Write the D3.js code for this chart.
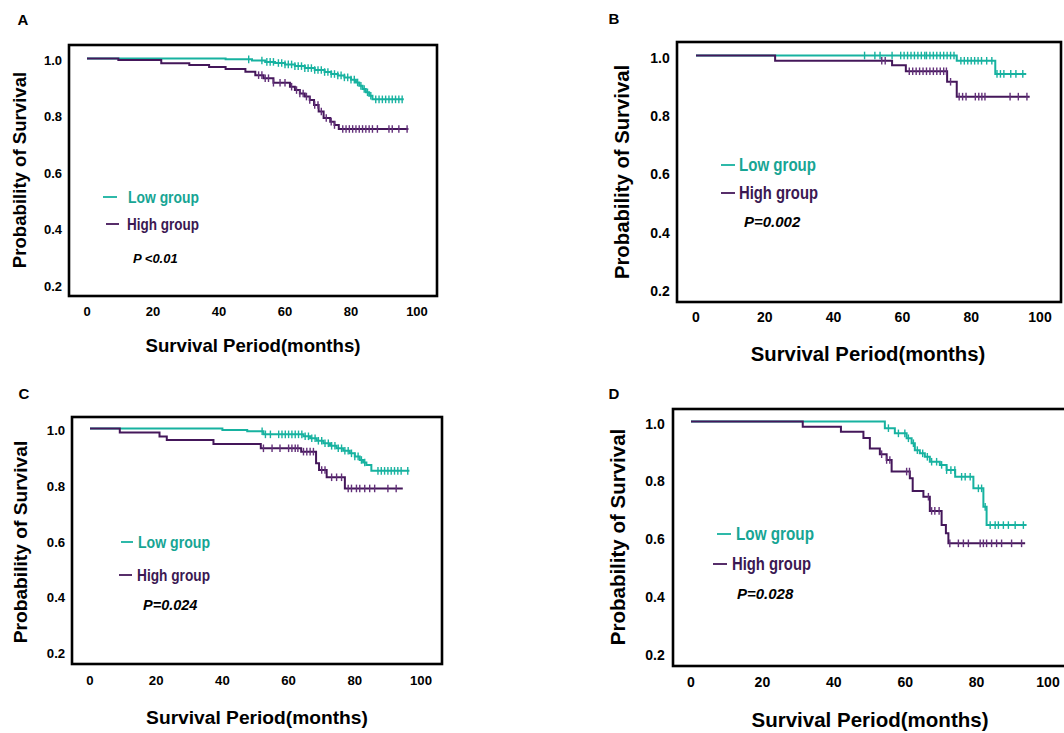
<!DOCTYPE html>
<html>
<head>
<meta charset="utf-8">
<script src="https://cdn.jsdelivr.net/npm/d3@7"></script>
<style>
  body { margin: 0; background: #fff; }
  svg { display: block; }
</style>
</head>
<body>
<div id="chart"></div>
<script>
const width = 1064;
const height = 733;

const xTicks = [0, 20, 40, 60, 80, 100];
const yTicks = [0.2, 0.4, 0.6, 0.8, 1.0];
const groupNames = ["Low group", "High group"];

// Kaplan-Meier steps: [month, survival after the drop]; last pair = end of follow-up
const aLowSteps = [[0, 1], [42, 0.997], [50, 0.993], [54, 0.988], [57, 0.984], [60, 0.979], [63, 0.973], [66, 0.966], [69, 0.959], [72, 0.952], [74, 0.945], [76, 0.94], [78, 0.933], [80, 0.925], [81.5, 0.915], [82.5, 0.903], [83.5, 0.892], [84.5, 0.88], [85.5, 0.868], [86.5, 0.855], [96, 0.855]];
const aLowCensor = [49, 53, 54.5, 55.5, 56.5, 58, 59, 60, 61, 62, 63, 64, 65, 66, 67, 68, 69, 70, 71, 72, 73, 74, 75, 76, 77, 78, 79, 80, 81, 82, 83, 84, 85, 86, 87.5, 88.5, 89.5, 90.5, 91.5, 92.5, 93.5, 94.5, 95.5];
const aHighSteps = [[0, 1], [9.5, 0.995], [22.5, 0.983], [31, 0.977], [37, 0.97], [42, 0.963], [48, 0.953], [51, 0.941], [53.5, 0.93], [56.5, 0.914], [61.5, 0.9], [63, 0.888], [64.5, 0.876], [66, 0.865], [67.5, 0.853], [68.8, 0.835], [70.2, 0.812], [71.7, 0.789], [73.7, 0.776], [75, 0.764], [76.3, 0.75], [97.4, 0.75]];
const aHighCensor = [52, 53, 54, 55, 56.5, 58.5, 60, 62, 63.5, 64.5, 65.5, 66.5, 67.5, 69, 70, 71, 72.5, 74, 75, 77.5, 78.5, 79.5, 80.5, 81.5, 82.5, 83.5, 84.5, 85.5, 86.5, 88, 91.5, 92.5, 94.5, 97];

const bLowSteps = [[0, 1], [75.8, 0.982], [87, 0.937], [96, 0.937]];
const bLowCensor = [49, 52, 53.5, 57, 59.5, 60.5, 61.5, 62.5, 63.5, 64.5, 65.5, 66.5, 67, 68, 69, 70, 71, 72, 73, 74, 75, 77, 78, 79, 80, 81, 82, 83, 84.5, 86, 87.5, 88.5, 89.5, 91.5, 93, 95];
const bHighSteps = [[0, 1], [23, 0.982], [57, 0.967], [61, 0.946], [73, 0.91], [75.8, 0.859], [97, 0.859]];
const bHighCensor = [54, 55, 62, 63, 64, 65, 66, 67, 68, 69, 70, 71, 72, 72.8, 74, 76.5, 77.5, 78.5, 81.2, 82.2, 83.1, 84, 91.3, 93.7, 96.2];

const cLowSteps = [[0, 1], [40, 0.995], [47.5, 0.99], [52.4, 0.979], [64.5, 0.972], [66.5, 0.965], [68.5, 0.956], [70.5, 0.947], [72.5, 0.938], [74.5, 0.929], [76.5, 0.92], [78.5, 0.911], [80, 0.9], [81.5, 0.887], [82.5, 0.878], [83.5, 0.869], [85, 0.848], [96.5, 0.848]];
const cLowCensor = [52, 53, 54.5, 57, 58, 59, 60, 61, 62, 63, 64, 65, 66, 67, 68, 69, 70, 71, 72, 73, 74, 75, 76, 77, 78, 79, 80, 81, 82, 83, 87, 88, 89, 90, 91, 92, 93, 94, 96];
const cHighSteps = [[0, 1], [9, 0.986], [21, 0.971], [23.2, 0.959], [37.3, 0.944], [51.6, 0.929], [63.8, 0.917], [68.3, 0.875], [69.2, 0.851], [71.5, 0.825], [77, 0.785], [94.5, 0.785]];
const cHighCensor = [52.4, 55, 57.4, 60, 61, 62, 62.8, 64.5, 65.5, 66.5, 67.5, 70, 71, 73, 74.5, 76, 78, 79, 80.5, 81.5, 83, 84.5, 86, 90, 92.5];

const dLowSteps = [[0, 1], [54.3, 0.977], [57.1, 0.959], [60.4, 0.942], [61.8, 0.925], [62.7, 0.901], [64.1, 0.89], [65.5, 0.878], [66.9, 0.861], [69.7, 0.85], [71.6, 0.832], [74, 0.809], [79.1, 0.769], [81.9, 0.705], [82.8, 0.642], [94, 0.642]];
const dLowCensor = [55.3, 58.1, 59.9, 60.9, 62.3, 63.4, 64.9, 66.2, 67.4, 68.8, 70.2, 71.6, 72.8, 73.9, 75.8, 76.8, 78.2, 80.5, 81.4, 82.4, 83.8, 85.2, 86.1, 87.5, 88.9, 90.8, 93.1];
const dHighSteps = [[0, 1], [31.3, 0.982], [42, 0.965], [48.3, 0.943], [50.1, 0.907], [52.9, 0.887], [54.8, 0.867], [56.2, 0.827], [61.3, 0.804], [62.1, 0.76], [65.1, 0.74], [66.9, 0.691], [70.2, 0.642], [71.4, 0.614], [72.1, 0.579], [93.6, 0.579]];
const dHighCensor = [53.4, 54.8, 55.7, 60.4, 61.2, 66.5, 67.4, 68.3, 69.5, 72.5, 74.9, 76.3, 77.7, 81, 81.9, 82.8, 84.2, 85.6, 87, 89.8, 92.6];

const pLabels = ["P <0.01", "P=0.002", "P=0.024", "P=0.028"];

const colors = { low: "#17b2a0", high: "#44175a", highMark: "#63307a" };
const lowText = "#17a594";
const highText = "#3b1852";

// layout of the four panels
const panels = [
  { letter: "A", box: [69, 45, 437, 296], x: [87, 417], y: [58.5, 284], tickFs: 13, tickLabelX: 53, tickLabelY: 311,
    xTitle: [253, 345], yTitle: [19, 170], titleFs: 18.6, letterPos: [23, 19],
    legend: [[103, 117, 128, 197], [106, 119, 127, 224]], legendFs: 16.5, legendW: [71, 72],
    pPos: [133, 258], pFs: 13,
    low: aLowSteps, lowC: aLowCensor, high: aHighSteps, highC: aHighCensor, p: pLabels[0] },
  { letter: "B", box: [677, 42, 1061, 302], x: [696, 1040], y: [55.5, 289], tickFs: 14, tickLabelX: 660, tickLabelY: 317,
    xTitle: [868, 354], yTitle: [622, 172], titleFs: 20.3, letterPos: [614, 18],
    legend: [[721, 735, 739, 165], [721, 735, 739, 193]], legendFs: 17.5, legendW: [77, 79],
    pPos: [744, 221], pFs: 15,
    low: bLowSteps, lowC: bLowCensor, high: bHighSteps, highC: bHighCensor, p: pLabels[1] },
  { letter: "C", box: [72, 417, 442, 664], x: [90, 421], y: [428.5, 651.5], tickFs: 13.2, tickLabelX: 56, tickLabelY: 680,
    xTitle: [257, 717], yTitle: [20, 542], titleFs: 19.2, letterPos: [24, 393],
    legend: [[121, 133, 138, 542], [119, 132, 137, 575]], legendFs: 16.8, legendW: [72, 73],
    pPos: [143, 605], pFs: 14.5,
    low: cLowSteps, lowC: cLowCensor, high: cHighSteps, highC: cHighCensor, p: pLabels[2] },
  { letter: "D", box: [673, 409, 1072, 666], x: [691, 1048], y: [421.5, 653], tickFs: 14, tickLabelX: 655, tickLabelY: 682,
    xTitle: [870, 719], yTitle: [617, 537], titleFs: 20.5, letterPos: [614, 393],
    legend: [[717, 731, 736, 534], [713, 727, 732, 564]], legendFs: 17.5, legendW: [78, 79],
    pPos: [737, 593], pFs: 15,
    low: dLowSteps, lowC: dLowCensor, high: dHighSteps, highC: dHighCensor, p: pLabels[3] },
];

const svg = d3.select("#chart").append("svg")
  .attr("width", width)
  .attr("height", height)
  .attr("viewBox", `0 0 ${width} ${height}`);

const boldFont = "'Liberation Sans', Arial, sans-serif";

function survAt(steps, t) {
  let s = 1;
  steps.forEach(([tt, v]) => { if (tt <= t) s = v; });
  return s;
}

function drawPanel(p) {
  const g = svg.append("g");
  const x = d3.scaleLinear().domain([0, 100]).range(p.x);
  const y = d3.scaleLinear().domain([1, 0.2]).range(p.y);

  // frame
  g.append("rect")
    .attr("x", p.box[0]).attr("y", p.box[1])
    .attr("width", p.box[2] - p.box[0]).attr("height", p.box[3] - p.box[1])
    .attr("fill", "none").attr("stroke", "#000").attr("stroke-width", 2.6);

  // tick labels (the original has no tick marks)
  g.selectAll(".yt").data(yTicks).enter().append("text")
    .attr("x", p.tickLabelX).attr("y", (d) => y(d) + 2)
    .attr("text-anchor", "middle").attr("dominant-baseline", "central")
    .attr("font-family", boldFont).attr("font-weight", "bold").attr("font-size", p.tickFs)
    .attr("fill", "#000")
    .text((d) => d.toFixed(1));

  g.selectAll(".xt").data(xTicks).enter().append("text")
    .attr("x", (d) => x(d)).attr("y", p.tickLabelY)
    .attr("text-anchor", "middle").attr("dominant-baseline", "central")
    .attr("font-family", boldFont).attr("font-weight", "bold").attr("font-size", p.tickFs)
    .attr("fill", "#000")
    .text((d) => d);

  // axis titles
  g.append("text")
    .attr("x", p.xTitle[0]).attr("y", p.xTitle[1])
    .attr("text-anchor", "middle").attr("dominant-baseline", "central")
    .attr("font-family", boldFont).attr("font-weight", "bold").attr("font-size", p.titleFs)
    .attr("fill", "#000")
    .text("Survival Period(months)");

  g.append("text")
    .attr("transform", `translate(${p.yTitle[0]},${p.yTitle[1]}) rotate(-90)`)
    .attr("text-anchor", "middle").attr("dominant-baseline", "central")
    .attr("font-family", boldFont).attr("font-weight", "bold").attr("font-size", p.titleFs)
    .attr("fill", "#000")
    .text("Probability of Survival");

  g.append("text")
    .attr("x", p.letterPos[0]).attr("y", p.letterPos[1])
    .attr("text-anchor", "middle").attr("dominant-baseline", "central")
    .attr("font-family", boldFont).attr("font-weight", "bold").attr("font-size", 15)
    .text(p.letter);

  // survival curves
  const line = d3.line()
    .x((d) => x(d[0]))
    .y((d) => y(d[1]))
    .curve(d3.curveStepAfter);

  const series = [
    { steps: p.low, censor: p.lowC, color: colors.low, mark: colors.low },
    { steps: p.high, censor: p.highC, color: colors.high, mark: colors.highMark },
  ];

  series.forEach((s) => {
    g.append("path")
      .datum(s.steps)
      .attr("d", line)
      .attr("fill", "none")
      .attr("stroke", s.color)
      .attr("stroke-width", 2);

    g.selectAll(null).data(s.censor).enter().append("line")
      .attr("x1", (d) => x(d)).attr("x2", (d) => x(d))
      .attr("y1", (d) => y(survAt(s.steps, d)) - 3.8)
      .attr("y2", (d) => y(survAt(s.steps, d)) + 3.8)
      .attr("stroke", s.mark)
      .attr("stroke-width", 1.4);
  });

  // legend (condensed bold text, like the original)
  const legendColors = [colors.low, colors.high];
  const legendText = [lowText, highText];
  p.legend.forEach((l, i) => {
    g.append("line")
      .attr("x1", l[0]).attr("x2", l[1]).attr("y1", l[3]).attr("y2", l[3])
      .attr("stroke", legendColors[i]).attr("stroke-width", 1.8);
    g.append("text")
      .attr("x", l[2]).attr("y", l[3])
      .attr("dominant-baseline", "central")
      .attr("font-family", boldFont).attr("font-weight", "bold").attr("font-size", p.legendFs)
      .attr("textLength", p.legendW[i]).attr("lengthAdjust", "spacingAndGlyphs")
      .attr("fill", legendText[i])
      .text(groupNames[i]);
  });

  g.append("text")
    .attr("x", p.pPos[0]).attr("y", p.pPos[1])
    .attr("dominant-baseline", "central")
    .attr("font-family", boldFont).attr("font-weight", "bold").attr("font-style", "italic")
    .attr("font-size", p.pFs)
    .attr("fill", "#000")
    .text(p.p);
}

panels.forEach(drawPanel);
</script>
</body>
</html>
